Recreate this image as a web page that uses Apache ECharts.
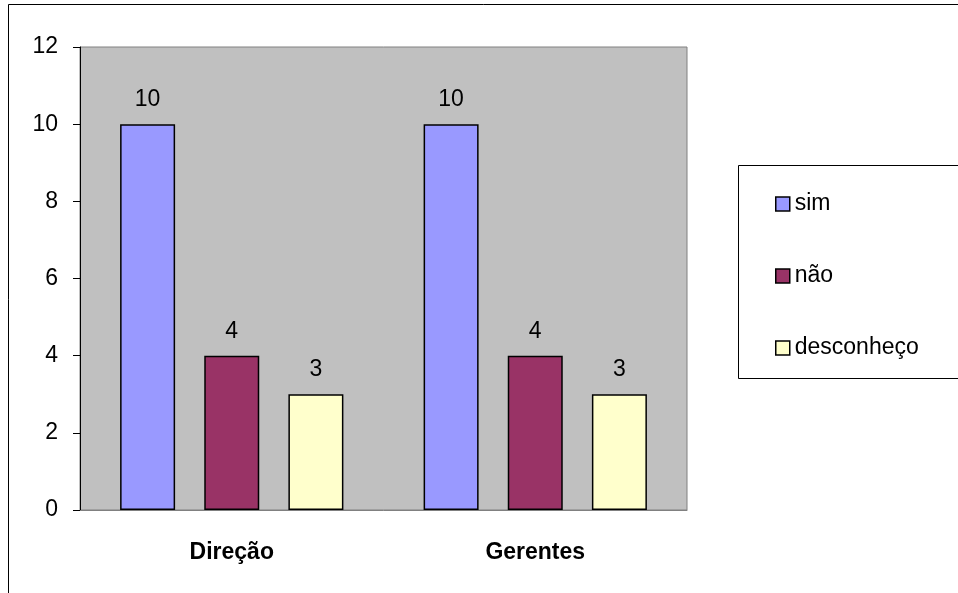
<!DOCTYPE html>
<html>
<head>
<meta charset="utf-8">
<script src="https://cdn.jsdelivr.net/npm/echarts@6/dist/echarts.min.js"></script>
<style>
  html, body { margin: 0; padding: 0; background: #fff; }
  #chart { width: 958px; height: 593px; }
</style>
</head>
<body>
<div id="chart"></div>
<script>
// dados
var categorias = ['Direção', 'Gerentes'];
var sim = [10, 10];
var nao = [4, 4];
var desconheco = [3, 3];
var nomes = ['sim', 'não', 'desconheço'];
var cores = ['#9999FF', '#993366', '#FFFFCC'];

var fonte = '"Liberation Sans", Arial, sans-serif';

function serie(nome, valores, cor) {
    return {
        name: nome,
        type: 'bar',
        barWidth: 55,
        barGap: '53%',
        data: valores,
        itemStyle: { color: cor, borderColor: '#000', borderWidth: 1.5 },
        label: {
            show: true,
            position: 'top',
            distance: 13,
            color: '#000',
            fontFamily: fonte,
            fontSize: 23
        }
    };
}

var chart = echarts.init(document.getElementById('chart'));
chart.setOption({
    animation: false,
    backgroundColor: '#fff',
    grid: {
        left: 80, right: 271, top: 47, bottom: 83,
        show: true,
        backgroundColor: '#C0C0C0',
        borderColor: '#808080',
        borderWidth: 1
    },
    graphic: [
        // moldura externa (só topo e esquerda aparecem)
        { type: 'rect', shape: { x: 8.5, y: 4.5, width: 1200, height: 1200 },
          style: { fill: 'none', stroke: '#000', lineWidth: 1 }, silent: true },
        // caixa da legenda
        { type: 'rect', shape: { x: 738.5, y: 165.5, width: 260, height: 213 },
          style: { fill: '#fff', stroke: '#000', lineWidth: 1 }, silent: true, z: -1 }
    ],
    legend: {
        orient: 'vertical',
        left: 770,
        top: 186,
        itemWidth: 14,
        itemHeight: 14,
        itemGap: 46,
        icon: 'rect',
        data: nomes,
        itemStyle: { borderColor: '#000', borderWidth: 1.5 },
        textStyle: { fontFamily: fonte, fontSize: 23, color: '#000', lineHeight: 26, padding: [0, 0, 0, 0] }
    },
    xAxis: {
        type: 'category',
        data: categorias,
        axisLine: { lineStyle: { color: '#808080', width: 1 } },
        axisTick: { show: false },
        axisLabel: { margin: 31, color: '#000', fontFamily: fonte, fontSize: 23, fontWeight: 'bold' }
    },
    yAxis: {
        type: 'value',
        min: 0,
        max: 12,
        interval: 2,
        splitLine: { show: false },
        axisLine: { show: true, lineStyle: { color: '#000', width: 1 } },
        axisTick: { show: true, length: 7, lineStyle: { color: '#000' } },
        axisLabel: { margin: 22, color: '#000', fontFamily: fonte, fontSize: 23 }
    },
    series: [
        serie(nomes[0], sim, cores[0]),
        serie(nomes[1], nao, cores[1]),
        serie(nomes[2], desconheco, cores[2])
    ]
});
</script>
</body>
</html>
